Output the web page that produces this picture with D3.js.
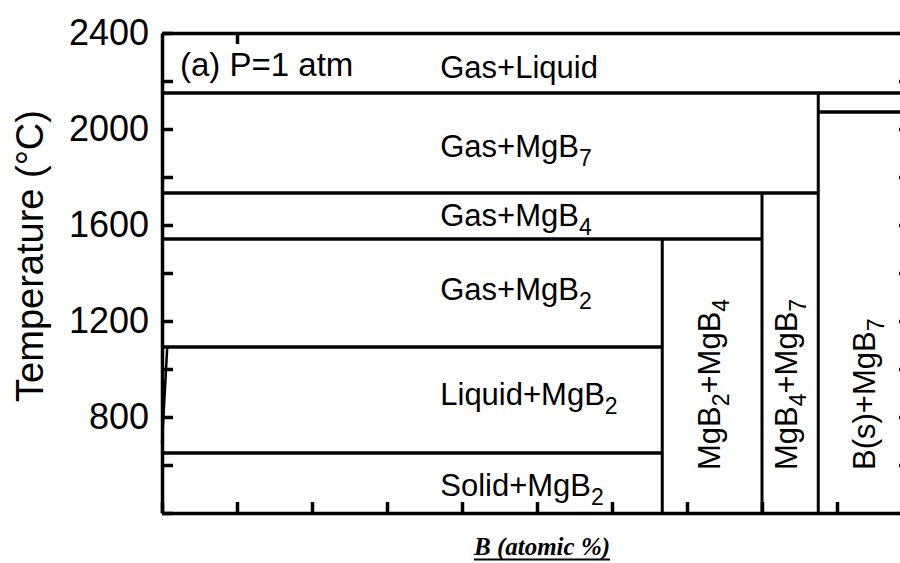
<!DOCTYPE html>
<html lang="en">
<head>
<meta charset="utf-8">
<title>Mg-B phase diagram</title>
<script src="https://cdn.jsdelivr.net/npm/d3@7"></script>
<style>
  body { margin: 0; background: #fff; }
  svg { display: block; }
</style>
</head>
<body>
<script>
// composition ticks (B atomic %) and temperature ticks
var xTicks = [0, 10, 20, 30, 40, 50, 60, 70, 80, 90, 100];
var topTicks = [10];
var tTicks = [400, 600, 800, 1000, 1200, 1400, 1600, 1800, 2000, 2200, 2400];
var tLabels = [800, 1200, 1600, 2000, 2400];

// horizontal phase boundaries: temperature, from B%, to B%
var hT  = [2150, 2071, 1733, 1542, 1092, 650];
var hX0 = [0, 87.5, 0, 0, 0, 0];
var hX1 = [100, 100, 87.5, 80, 66.7, 66.7];

// vertical boundaries (compounds MgB2, MgB4, MgB7): B%, top temperature
var vX = [66.7, 80, 87.5];
var vT = [1542, 1733, 2150];

// Mg-rich liquidus
var liquidus = [[0, 690], [0.7, 1092]];

// region labels
var names  = ["Gas+Liquid", "Gas+MgB", "Gas+MgB", "Gas+MgB", "Liquid+MgB", "Solid+MgB"];
var subs   = ["", "7", "4", "2", "2", "2"];
var nameB  = [37.1, 37.1, 37.1, 37.1, 37.1, 37.1];
var nameT  = [2212, 1883, 1596, 1287, 850, 471];

var vNames = [["MgB", "2", "+MgB", "4"], ["MgB", "4", "+MgB", "7"], ["B(s)+MgB", "7"]];
var vNameB = [74.4, 84.7, 95.0];
var vNameT = [579, 579, 579];

var width = 900, height = 563;
var x = d3.scaleLinear().domain([0, 100]).range([162, 912]);
var y = d3.scaleLinear().domain([400, 2400]).range([513, 33]);

var svg = d3.select("body").append("svg")
            .attr("width", width)
            .attr("height", height)
            .style("font-family", "'Liberation Sans', Arial, Helvetica, sans-serif");

function styleAxis(g) {
  g.select(".domain").attr("stroke", "#000").attr("stroke-width", 3.5);
  g.selectAll(".tick line").attr("stroke", "#000").attr("stroke-width", 3.5);
  g.selectAll(".tick text").attr("fill", "#000");
}

// left axis
svg.append("g")
   .attr("transform", "translate(162,0)")
   .call(d3.axisLeft(y).tickValues(tTicks).tickSize(-11).tickSizeOuter(0).tickPadding(13)
           .tickFormat(function(d){ return tLabels.indexOf(d) >= 0 ? d : ""; }))
   .call(styleAxis)
   .call(function(g){ g.selectAll(".tick text").attr("font-size", 36).attr("font-family", null); });

// right axis
svg.append("g")
   .attr("transform", "translate(912,0)")
   .call(d3.axisRight(y).tickValues(tTicks).tickSize(-13).tickSizeOuter(0).tickFormat(""))
   .call(styleAxis);

// bottom axis
svg.append("g")
   .attr("transform", "translate(0,513)")
   .call(d3.axisBottom(x).tickValues(xTicks).tickSize(-11).tickSizeOuter(0).tickFormat(""))
   .call(styleAxis);

// top axis
svg.append("g")
   .attr("transform", "translate(0,33)")
   .call(d3.axisTop(x).tickValues(topTicks).tickSize(-11).tickSizeOuter(0).tickFormat(""))
   .call(styleAxis);

// phase boundaries
svg.selectAll("line.h")
   .data(hT)
   .enter().append("line")
   .attr("class", "h")
   .attr("x1", function(d, i){ return x(hX0[i]); })
   .attr("x2", function(d, i){ return x(hX1[i]); })
   .attr("y1", function(d){ return y(d); })
   .attr("y2", function(d){ return y(d); })
   .attr("stroke", "#000")
   .attr("stroke-width", 3.5);

svg.selectAll("line.v")
   .data(vX)
   .enter().append("line")
   .attr("class", "v")
   .attr("x1", function(d){ return x(d); })
   .attr("x2", function(d){ return x(d); })
   .attr("y1", y(400))
   .attr("y2", function(d, i){ return y(vT[i]); })
   .attr("stroke", "#000")
   .attr("stroke-width", 3);

svg.append("path")
   .attr("d", d3.line().x(function(d){ return x(d[0]); }).y(function(d){ return y(d[1]); })(liquidus))
   .attr("fill", "none")
   .attr("stroke", "#000")
   .attr("stroke-width", 2.5);

// labels
svg.append("text")
   .attr("x", 180).attr("y", 76)
   .attr("font-size", 33)
   .text("(a) P=1 atm");

names.forEach(function(n, i) {
  var t = svg.append("text")
             .attr("x", x(nameB[i]))
             .attr("y", y(nameT[i]))
             .attr("font-size", 31);
  t.append("tspan").text(n);
  if (subs[i]) t.append("tspan").attr("dy", 9).attr("font-size", 23).text(subs[i]);
});

vNames.forEach(function(parts, i) {
  var t = svg.append("text")
             .attr("transform", "translate(" + x(vNameB[i]) + "," + y(vNameT[i]) + ") rotate(-90)")
             .attr("font-size", 31);
  parts.forEach(function(p, j) {
    if (j % 2 === 0) t.append("tspan").attr("dy", j === 0 ? 0 : -9).text(p);
    else t.append("tspan").attr("dy", 9).attr("font-size", 23).text(p);
  });
});

svg.append("text")
   .attr("transform", "translate(43,256) rotate(-90)")
   .attr("text-anchor", "middle")
   .attr("font-size", 38)
   .text("Temperature (\u00B0C)");

var xTitle = svg.append("text")
   .attr("x", x(50) + 5).attr("y", 555)
   .attr("text-anchor", "middle")
   .attr("font-family", "'Liberation Serif', 'Times New Roman', serif")
   .attr("font-weight", "bold")
   .attr("font-style", "italic")
   .attr("font-size", 25)
   .text("B (atomic %)");

var tw = xTitle.node().getComputedTextLength();
svg.append("line")
   .attr("x1", x(50) + 5 - tw / 2).attr("x2", x(50) + 5 + tw / 2)
   .attr("y1", 559.5).attr("y2", 559.5)
   .attr("stroke", "#000")
   .attr("stroke-width", 2);
</script>
</body>
</html>
